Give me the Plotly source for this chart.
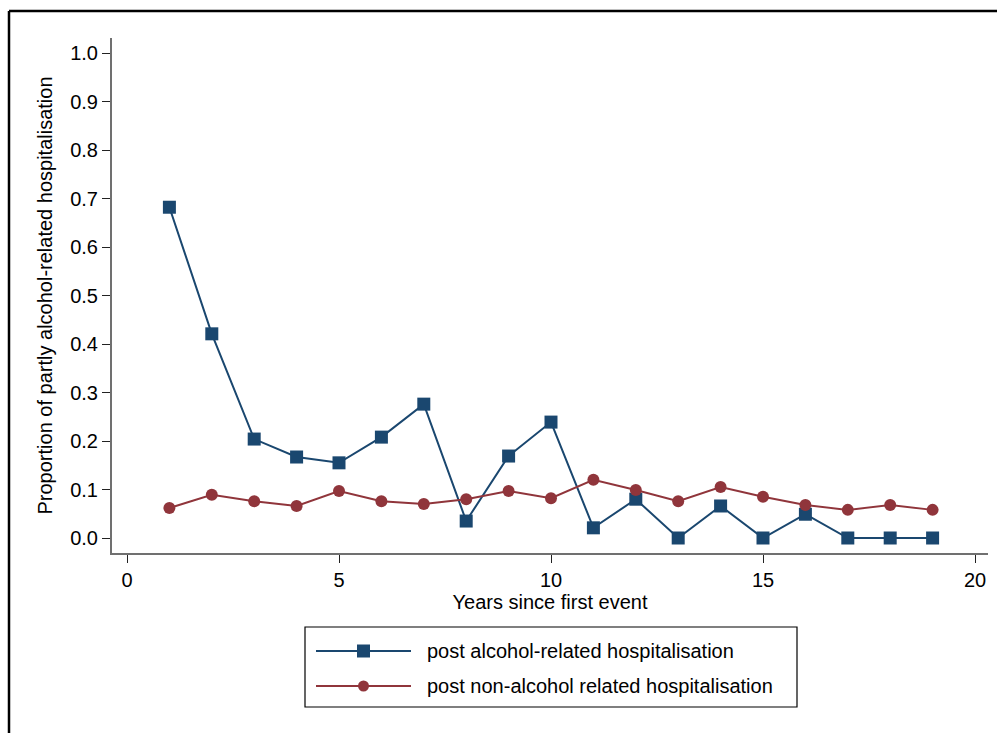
import plotly.graph_objects as go

# Years since first event
years = list(range(1, 20))

# Proportion of partly alcohol-related hospitalisation, by group
post_alcohol = [0.682, 0.421, 0.204, 0.167, 0.155, 0.208, 0.276, 0.035, 0.169, 0.239,
                0.021, 0.080, 0.0, 0.066, 0.0, 0.049, 0.0, 0.0, 0.0]
post_non_alcohol = [0.062, 0.089, 0.076, 0.066, 0.097, 0.076, 0.070, 0.080, 0.097, 0.082,
                    0.120, 0.099, 0.076, 0.105, 0.085, 0.068, 0.058, 0.068, 0.058]

series_names = ["post alcohol-related hospitalisation",
                "post non-alcohol related hospitalisation"]

x_ticks = [0, 5, 10, 15, 20]
y_ticks = [0.0, 0.1, 0.2, 0.3, 0.4, 0.5, 0.6, 0.7, 0.8, 0.9, 1.0]
y_tick_labels = [f"{v:.1f}" for v in y_ticks]

NAVY = "#1a476f"
MAROON = "#90353b"
FONT = "Liberation Sans, Arial, sans-serif"

W, H = 997, 733
ML, MR, MT, MB = 112, 9, 38, 180
PW, PH = W - ML - MR, H - MT - MB


def px_x(px):
    return (px - ML) / PW


def px_y(py):
    return (H - MB - py) / PH


fig = go.Figure()
fig.add_trace(go.Scatter(
    x=years, y=post_alcohol, mode="lines+markers", name=series_names[0],
    line=dict(color=NAVY, width=2),
    marker=dict(symbol="square", size=13, color=NAVY),
))
fig.add_trace(go.Scatter(
    x=years, y=post_non_alcohol, mode="lines+markers", name=series_names[1],
    line=dict(color=MAROON, width=2),
    marker=dict(symbol="circle", size=12, color=MAROON),
))

# Outer frame (top and left rules)
shapes = [
    dict(type="line", xref="paper", yref="paper",
         x0=px_x(9), x1=px_x(W + 5), y0=px_y(11), y1=px_y(11),
         line=dict(color="black", width=2.5)),
    dict(type="line", xref="paper", yref="paper",
         x0=px_x(9), x1=px_x(9), y0=px_y(11), y1=px_y(H + 5),
         line=dict(color="black", width=2.5)),
    # legend box
    dict(type="rect", xref="paper", yref="paper",
         x0=px_x(305), x1=px_x(797), y0=px_y(627), y1=px_y(707),
         line=dict(color="black", width=1.2), fillcolor="white"),
]
annotations = []

# Legend keys: line with marker in the middle, then label
legend_rows = [(651, NAVY, "square"), (686, MAROON, "circle")]
for (row_y, color, sym), label in zip(legend_rows, series_names):
    shapes.append(dict(type="line", xref="paper", yref="paper",
                       x0=px_x(316), x1=px_x(411), y0=px_y(row_y), y1=px_y(row_y),
                       line=dict(color=color, width=2)))
    half = 6.5 if sym == "square" else 5.5
    shapes.append(dict(type="rect" if sym == "square" else "circle",
                       xref="paper", yref="paper",
                       x0=px_x(363.5 - half), x1=px_x(363.5 + half),
                       y0=px_y(row_y - half), y1=px_y(row_y + half),
                       line=dict(color=color, width=0), fillcolor=color))
    annotations.append(dict(xref="paper", yref="paper", x=px_x(425), y=px_y(row_y),
                            xanchor="left", yanchor="middle", showarrow=False,
                            text=label, font=dict(size=20, color="black")))

fig.update_layout(
    width=W, height=H,
    margin=dict(l=ML, r=MR, t=MT, b=MB, autoexpand=False),
    paper_bgcolor="white", plot_bgcolor="white",
    font=dict(family=FONT, size=20, color="black"),
    showlegend=False,
    shapes=shapes,
    annotations=annotations,
)

fig.update_xaxes(
    range=[(ML - 127) / 42.4, (W - MR - 127) / 42.4],
    tickvals=x_ticks, ticks="outside", ticklen=8, tickwidth=1.2, tickcolor="#222",
    showline=True, linecolor="#707070", linewidth=2, showgrid=False, zeroline=False,
    title=dict(text="Years since first event", standoff=2, font=dict(size=20)),
    tickfont=dict(size=20),
)
fig.update_yaxes(
    range=[-15 / 485, 1 + 15 / 485],
    tickvals=y_ticks, ticktext=y_tick_labels,
    ticks="outside", ticklen=8, tickwidth=1.2, tickcolor="#222",
    showline=True, linecolor="#707070", linewidth=2, showgrid=False, zeroline=False,
    title=dict(text="Proportion of partly alcohol-related hospitalisation", standoff=12,
               font=dict(size=20)),
    tickfont=dict(size=20),
)

fig.write_html("out.html")
